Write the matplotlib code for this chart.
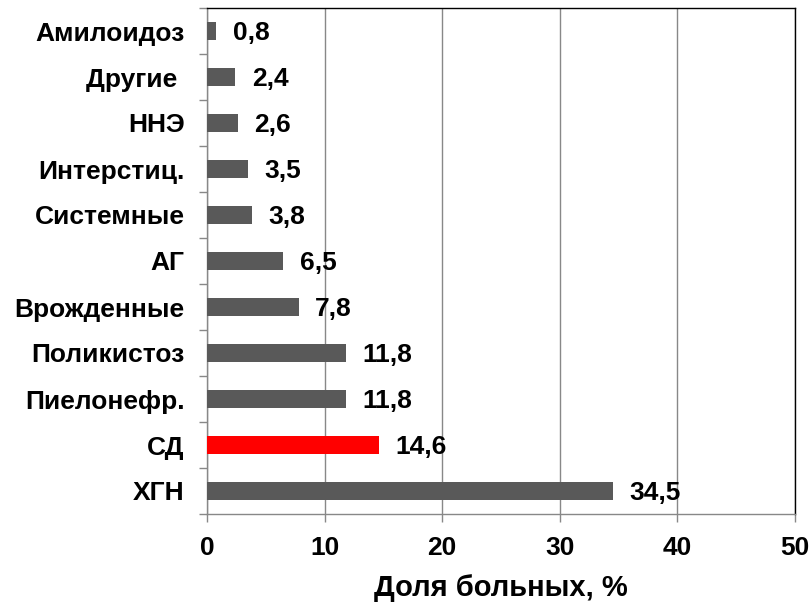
import matplotlib
matplotlib.use('Agg')
import matplotlib.pyplot as plt
import numpy as np

plt.rcParams['font.family'] = ['Liberation Sans', 'DejaVu Sans']

categories = ['ХГН', 'СД', 'Пиелонефр.', 'Поликистоз', 'Врожденные', 'АГ',
              'Системные', 'Интерстиц.', 'ННЭ', 'Другие ', 'Амилоидоз']
values = [34.5, 14.6, 11.8, 11.8, 7.8, 6.5, 3.8, 3.5, 2.6, 2.4, 0.8]
value_labels = ['34,5', '14,6', '11,8', '11,8', '7,8', '6,5', '3,8', '3,5', '2,6', '2,4', '0,8']
colors = ['#595959', '#ff0000'] + ['#595959'] * 9

fig = plt.figure(figsize=(8.1, 6.03), dpi=100)
ax = fig.add_axes([207/810, 1 - 514/603, (795-207)/810, (514-8)/603])

y = np.arange(len(categories))
ax.barh(y, values, height=0.4, color=colors, zorder=3)
for yi, v, lab in zip(y, values, value_labels):
    ax.text(v + 1.4, yi - 0.05, lab, va='center', ha='left',
            fontsize=19, fontweight='bold', zorder=4)

ax.set_xlim(0, 50)
ax.set_ylim(-0.5, len(categories) - 0.5)
ax.set_xticks(np.arange(0, 51, 10))
ax.set_yticks(y)
ax.set_yticklabels(categories, fontsize=19, fontweight='bold')
ax.set_yticks(np.arange(-0.5, len(categories), 1), minor=True)
ax.tick_params(axis='y', which='major', length=0, pad=16)
ax.tick_params(axis='y', which='minor', length=6, color='#888888', width=1)
ax.tick_params(axis='x', length=6, color='#888888', width=1, pad=10, labelsize=19)
for lab in ax.get_xticklabels():
    lab.set_fontweight('bold')

ax.grid(axis='x', color='#888888', linewidth=1, zorder=0)
ax.spines['left'].set_color('#888888')
ax.spines['bottom'].set_color('#888888')
ax.spines['top'].set_color('black')
ax.spines['right'].set_color('black')
for s in ax.spines.values():
    s.set_linewidth(1)

ax.set_xlabel('Доля больных, %', fontsize=21, fontweight='bold', labelpad=10)

fig.savefig('out.png', dpi=100)
